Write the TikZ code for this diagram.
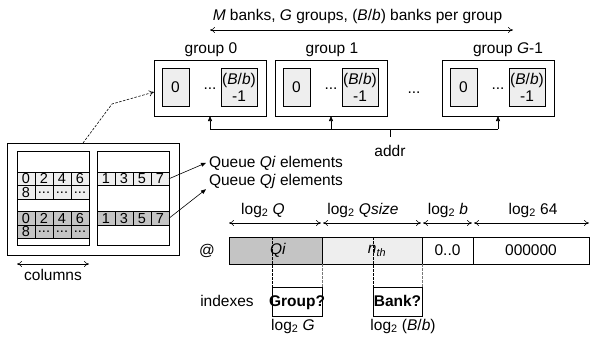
\documentclass[tikz,border=0pt]{standalone}
\usepackage{fontspec}
\setmainfont{Liberation Sans}
\usetikzlibrary{arrows.meta}
\definecolor{lightfill}{RGB}{238,238,238}
\definecolor{darkfill}{RGB}{196,196,196}
\definecolor{dashgray}{RGB}{120,120,120}
\newcommand\mydots{...}
\begin{document}
\begin{tikzpicture}[x=1pt,y=-1pt,font=\fontsize{15.5}{17}\selectfont,line width=0.8pt,
  box/.style={draw,inner sep=0,outer sep=0,anchor=north west},
  cell/.style={draw,inner sep=0,outer sep=0,anchor=north west,minimum width=18pt,minimum height=13.5pt,font=\fontsize{14.5}{15}\selectfont},
  lbl/.style={inner sep=0,outer sep=0},
  dim/.style={{To[length=5pt,width=6pt]}-{To[length=5pt,width=6pt]},line width=0.6pt},
  tri/.style={-{Triangle[length=5pt,width=4pt]},line width=0.6pt},
  vdash/.style={dashed,dash pattern=on 2.5pt off 1.5pt,line width=0.6pt}]
\useasboundingbox (0,0) rectangle (590,346);

% ---- title arrow
\node[lbl,anchor=base] (title) at (357.5,20) {\textit{M} banks, \textit{G} groups, (\textit{B}/\textit{b}) banks per group};
\coordinate (tl) at (210,30);
\coordinate (tr) at (513,30);
\draw[dim] (tl) -- (tr);

% ---- groups
\foreach \n/\x/\lx/\t in {g0/154/211/{group 0},g1/275/332/{group 1},g2/442/508/{group \textit{G}-1}}{
  \node[box,minimum width=112pt,minimum height=56pt] (\n) at (\x,60) {};
  \node[lbl,anchor=base] (\n lab) at (\lx,53) {\t};
  \node[box,fill=lightfill,minimum width=27pt,minimum height=38pt] (\n a) at (\x+8,68) {0};
  \node[box,fill=lightfill,minimum width=36pt,minimum height=38pt,align=center] (\n b) at (\x+67,68) {(\textit{B}/\textit{b})\\-1};
  \node[lbl,anchor=base] (\n dots) at (\x+56,89) {...};
}
\node[lbl,anchor=base] (gdots) at (414,93) {...};

% ---- addr bus
\coordinate (b0) at (g0.south |- 0,129);
\coordinate (b2) at (g2.south |- 0,129);
\coordinate (b1) at (g1.south |- 0,129);
\coordinate (bs) at (390,129);
\coordinate (be) at (390,137);
\draw[line width=0.6pt] (b0) -- (b2);
\draw[tri] (b0) -- (g0.south);
\draw[tri] (b1) -- (g1.south);
\draw[tri] (b2) -- (g2.south);
\draw[line width=0.6pt] (bs) -- (be);
\node[lbl,anchor=base] (addr) at (390,156) {addr};

% ---- memory block
\node[box,minimum width=172pt,minimum height=112pt] (mem) at (7,143) {};
\node[box,minimum width=72pt,minimum height=94pt] (bankL) at (17,151) {};
\node[box,minimum width=72pt,minimum height=94pt] (bankR) at (97,151) {};
\foreach \d [count=\i] in {0,2,4,6}
  \node[cell,fill=lightfill] (LA\i) at ({17+18*(\i-1)},172) {\d};
\foreach \d [count=\i] in {8,\mydots,\mydots,\mydots}
  \node[cell,fill=lightfill] (LB\i) at ({17+18*(\i-1)},185.5) {\d};
\foreach \d [count=\i] in {0,2,4,6}
  \node[cell,fill=darkfill] (LC\i) at ({17+18*(\i-1)},211.5) {\d};
\foreach \d [count=\i] in {8,\mydots,\mydots,\mydots}
  \node[cell,fill=darkfill] (LD\i) at ({17+18*(\i-1)},225) {\d};
\foreach \d [count=\i] in {1,3,5,7}
  \node[cell,fill=lightfill] (RA\i) at ({97+18*(\i-1)},172) {\d};
\foreach \d [count=\i] in {1,3,5,7}
  \node[cell,fill=darkfill] (RC\i) at ({97+18*(\i-1)},211.5) {\d};

\coordinate (cl) at (17,264);
\coordinate (cr) at (89,264);
\draw[dim] (cl) -- (cr);
\node[lbl,anchor=base] (columns) at (53,280) {columns};

% dashed link to group 0
\coordinate (ds) at (83,143);
\coordinate (dm) at (112,104);
\coordinate (de) at (154,92);
\draw[dashed,dash pattern=on 2.5pt off 1.5pt,line width=0.6pt,-{To[length=5pt,width=6pt]}] (ds) -- (dm) -- (de);

% queues
\node[lbl,anchor=base west] (qi) at (209,167) {Queue \textit{Qi} elements};
\node[lbl,anchor=base west] (qj) at (209,185) {Queue \textit{Qj} elements};
\draw[tri] (RA4.east) -- ([xshift=-3pt]qi.west);
\draw[tri] (RC4.east) -- ([xshift=-3pt,yshift=-1pt]qj.south west);

% ---- address bar
\node[box,fill=darkfill,minimum width=93pt,minimum height=27pt] (s1) at (229,237) {};
\node[lbl] (s1t) at (278,250.5) {\textit{Qi}};
\node[box,fill=lightfill,minimum width=100pt,minimum height=27pt] (s2) at (322,237) {};
\node[lbl] (s2t) at (377,251) {\textit{n}\textsubscript{\textit{th}}};
\node[box,minimum width=51pt,minimum height=27pt] (s3) at (422,237) {0..0};
\node[box,minimum width=116pt,minimum height=27pt] (s4) at (473,237) {000000};
\node[lbl] (at) at (207,250.5) {@};

\draw[dim] (s1.north west |- 0,223) -- ([xshift=-1pt]s1.north east |- 0,223);
\draw[dim] ([xshift=1pt]s2.north west |- 0,223) -- ([xshift=-1pt]s2.north east |- 0,223);
\draw[dim] ([xshift=1pt]s3.north west |- 0,223) -- ([xshift=-1pt]s3.north east |- 0,223);
\draw[dim] ([xshift=1pt]s4.north west |- 0,223) -- (s4.north east |- 0,223);
\node[lbl,anchor=base] (l1) at (263,214) {log\textsubscript{2} \textit{Q}};
\node[lbl,anchor=base] (l2) at (363,214) {log\textsubscript{2} \textit{Qsize}};
\node[lbl,anchor=base] (l3) at (448,214) {log\textsubscript{2} \textit{b}};
\node[lbl,anchor=base] (l4) at (533,214) {log\textsubscript{2} 64};

% ---- index boxes
\node[box,minimum width=50pt,minimum height=29pt] (grp) at (272,287) {};
\node[lbl,anchor=base] (grpt) at (297,306) {\textbf{Group?}};
\node[box,minimum width=49pt,minimum height=29pt] (bnk) at (373,287) {};
\node[lbl,anchor=base] (bnkt) at (397.5,306) {\textbf{Bank?}};
\node[lbl,anchor=base] (idx) at (227,306) {indexes};
\node[lbl,anchor=base] (lg) at (293,330) {log\textsubscript{2} \textit{G}};
\node[lbl,anchor=base] (lb) at (403,330) {log\textsubscript{2} (\textit{B}/\textit{b})};

\draw[vdash] (grp.north west |- s1.north) -- (grp.north west);
\draw[vdash,dashgray] (s1.south east) -- (grp.north east);
\draw[vdash] (bnk.north west |- s2.north) -- (bnk.north west);
\draw[vdash,dashgray] (s2.south east) -- (bnk.north east);
\end{tikzpicture}
\end{document}
